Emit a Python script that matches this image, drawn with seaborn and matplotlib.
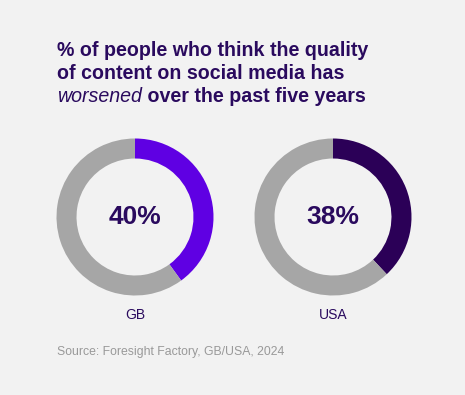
import matplotlib
matplotlib.use('Agg')
import matplotlib.pyplot as plt
import seaborn as sns

# data
countries = ['GB', 'USA']
worsened = [40, 38]
ring_colors = ['#5f00e3', '#2b0057']
rest_color = '#a6a6a6'
title_lines = ['% of people who think the quality', 'of content on social media has']
title_italic = 'worsened'
title_rest = ' over the past five years'
source = 'Source: Foresight Factory, GB/USA, 2024'

sns.set_theme(style='white')
plt.rcParams['font.family'] = ['Liberation Sans', 'DejaVu Sans']

bg = '#f2f2f2'
txt_dark = '#2a0a5e'
W, H = 465, 395
fig = plt.figure(figsize=(W / 100, H / 100), dpi=100, facecolor=bg)

# full-figure axes just for text
base = fig.add_axes([0, 0, 1, 1])
base.set_xlim(0, W)
base.set_ylim(H, 0)
base.axis('off')

# title
tx = 57
fs_title = 14.1
for i, line in enumerate(title_lines):
    base.text(tx, 50.5 + i * 23.2, line, fontsize=fs_title, fontweight='bold',
              color=txt_dark, va='center', ha='left')
t = base.text(tx, 97, title_italic, fontsize=fs_title, style='italic',
              color=txt_dark, va='center', ha='left')
base.annotate(title_rest, xy=(1, 0.5), xycoords=t, va='center', ha='left',
              fontsize=fs_title, fontweight='bold', color=txt_dark)

# donuts
centers_x = [135, 333]
cy = 217
r = 78.5
for cx, name, val, col in zip(centers_x, countries, worsened, ring_colors):
    ax = fig.add_axes([(cx - r) / W, 1 - (cy + r) / H, 2 * r / W, 2 * r / H])
    ax.pie([val, 100 - val], colors=[col, rest_color], startangle=90, counterclock=False,
           radius=1, wedgeprops=dict(width=0.255, linewidth=0))
    ax.set_xlim(-1, 1)
    ax.set_ylim(-1, 1)
    ax.set_aspect('equal')
    ax.axis('off')
    ax.text(0, 0, f'{val}%', ha='center', va='center', fontsize=19, fontweight='bold',
            color=txt_dark)
    base.text(cx, 315, name, ha='center', va='center', fontsize=10, color=txt_dark)

base.text(tx, 352, source, ha='left', va='center', fontsize=8.8, color='#999999')

fig.savefig('out.png', dpi=100, facecolor=bg)
